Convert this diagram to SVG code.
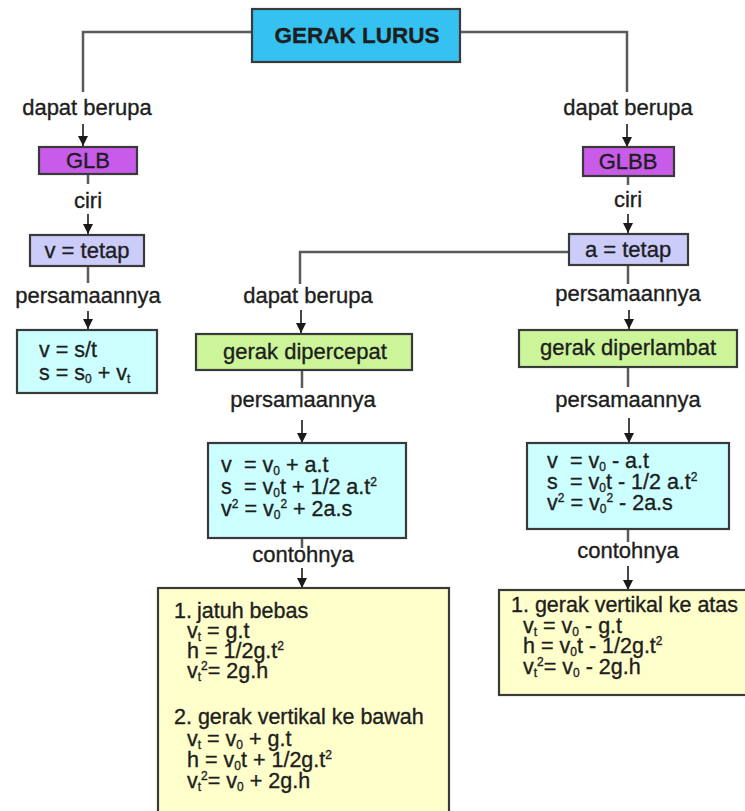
<svg xmlns="http://www.w3.org/2000/svg" width="745" height="811" viewBox="0 0 745 811">
<defs>
<marker id="ah" markerUnits="userSpaceOnUse" markerWidth="11" markerHeight="10" refX="10" refY="5" orient="auto" viewBox="0 0 11 10">
<path d="M0,0 L10,5 L0,10 Z" fill="#1a1a1a"/>
</marker>
<style>
.bx{stroke:#3a3a3a;stroke-width:2.2}
.t{font-family:"Liberation Sans",Arial,sans-serif;fill:#1e1e1e;stroke:#1e1e1e;stroke-width:0.35}
.lbl{font-size:22px;text-anchor:middle}
.bt{font-size:22px;text-anchor:middle}
.eq{font-size:21.5px}
.sub{font-size:12px}
.con{fill:none;stroke:#5a5a5a;stroke-width:2.5}
.arr{fill:none;stroke:#1a1a1a;stroke-width:1.6}
</style>
</defs>
<rect width="745" height="811" fill="#ffffff"/>

<g id="connectors">
<path class="con" d="M252,32 H83 V92"/>
<path class="con" d="M460,32 H627 V92"/>
<path class="con" d="M569,252 H300 V284"/>
<path class="con" d="M88,174 V184"/>
<path class="con" d="M88,266 V283"/>
<path class="con" d="M628,176 V185"/>
<path class="con" d="M628,265 V284"/>
<path class="con" d="M302,370 V388"/>
<path class="con" d="M628,367 V387"/>
<path class="con" d="M302,538 V548"/>
<path class="con" d="M628,529 V542"/>
<path class="arr" d="M83,124 V146" marker-end="url(#ah)"/>
<path class="arr" d="M627,124 V147" marker-end="url(#ah)"/>
<path class="arr" d="M88,214 V234" marker-end="url(#ah)"/>
<path class="arr" d="M628,214 V233" marker-end="url(#ah)"/>
<path class="arr" d="M88,311 V329" marker-end="url(#ah)"/>
<path class="arr" d="M301,310 V333" marker-end="url(#ah)"/>
<path class="arr" d="M629,310 V329" marker-end="url(#ah)"/>
<path class="arr" d="M302,420 V443" marker-end="url(#ah)"/>
<path class="arr" d="M629,418 V443" marker-end="url(#ah)"/>
<path class="arr" d="M302,568 V588" marker-end="url(#ah)"/>
<path class="arr" d="M628,566 V590" marker-end="url(#ah)"/>
<text class="t lbl" x="87" y="115">dapat berupa</text>
<text class="t lbl" x="628" y="115">dapat berupa</text>
<text class="t lbl" x="88" y="208">ciri</text>
<text class="t lbl" x="628" y="207">ciri</text>
<text class="t lbl" x="88" y="303">persamaannya</text>
<text class="t lbl" x="308" y="303">dapat berupa</text>
<text class="t lbl" x="628" y="301">persamaannya</text>
<text class="t lbl" x="303" y="407">persamaannya</text>
<text class="t lbl" x="628" y="407">persamaannya</text>
<text class="t lbl" x="303" y="562">contohnya</text>
<text class="t lbl" x="628" y="558">contohnya</text>
</g>

<g id="gerak-lurus">
<rect class="bx" x="252" y="9" width="208" height="53" fill="#35c2f0"/>
<text class="t" x="357" y="43" font-size="22.5" font-weight="bold" text-anchor="middle">GERAK LURUS</text>
</g>

<g id="glb">
<rect class="bx" x="39" y="147" width="98" height="27" fill="#c85ce8"/>
<text class="t bt" x="88" y="168">GLB</text>
</g>

<g id="glbb">
<rect class="bx" x="583" y="147" width="91" height="29" fill="#c85ce8"/>
<text class="t bt" x="628" y="169">GLBB</text>
</g>

<g id="v-tetap">
<rect class="bx" x="30" y="235" width="114" height="31" fill="#ccccfa"/>
<text class="t bt" x="87" y="258">v = tetap</text>
</g>

<g id="a-tetap">
<rect class="bx" x="569" y="234" width="119" height="31" fill="#ccccfa"/>
<text class="t bt" x="628" y="257">a = tetap</text>
</g>

<g id="glb-eq">
<rect class="bx" x="17" y="330" width="140" height="63" fill="#ccffff"/>
<text class="t eq" x="39" y="357">v = s/t</text>
<text class="t eq" x="39" y="380">s = s<tspan class="sub" dy="3">0</tspan><tspan dy="-3"> + v</tspan><tspan class="sub" dy="3">t</tspan></text>
</g>

<g id="gerak-dipercepat">
<rect class="bx" x="196" y="334" width="216" height="36" fill="#ccf59a"/>
<text class="t bt" x="305" y="359">gerak dipercepat</text>
</g>

<g id="gerak-diperlambat">
<rect class="bx" x="519" y="330" width="218" height="37" fill="#ccf59a"/>
<text class="t bt" x="628" y="355">gerak diperlambat</text>
</g>

<g id="glbb-eq-dipercepat">
<rect class="bx" x="208" y="443" width="198" height="95" fill="#ccffff"/>
<text class="t eq" y="472"><tspan x="221">v</tspan><tspan x="244">= v</tspan><tspan class="sub" dy="3">0</tspan><tspan dy="-3"> + a.t</tspan></text>
<text class="t eq" y="494"><tspan x="221">s</tspan><tspan x="244">= v</tspan><tspan class="sub" dy="3">0</tspan><tspan dy="-3">t + 1/2 a.t</tspan><tspan class="sub" dy="-8">2</tspan></text>
<text class="t eq" y="516"><tspan x="221">v</tspan><tspan class="sub" dy="-8">2</tspan><tspan dy="8"> = v</tspan><tspan class="sub" dy="3">0</tspan><tspan class="sub" dy="-11">2</tspan><tspan dy="8"> + 2a.s</tspan></text>
</g>

<g id="glbb-eq-diperlambat">
<rect class="bx" x="527" y="443" width="202" height="86" fill="#ccffff"/>
<text class="t eq" y="468"><tspan x="547">v</tspan><tspan x="570">= v</tspan><tspan class="sub" dy="3">0</tspan><tspan dy="-3"> - a.t</tspan></text>
<text class="t eq" y="489"><tspan x="547">s</tspan><tspan x="570">= v</tspan><tspan class="sub" dy="3">0</tspan><tspan dy="-3">t - 1/2 a.t</tspan><tspan class="sub" dy="-8">2</tspan></text>
<text class="t eq" y="510"><tspan x="547">v</tspan><tspan class="sub" dy="-8">2</tspan><tspan dy="8"> = v</tspan><tspan class="sub" dy="3">0</tspan><tspan class="sub" dy="-11">2</tspan><tspan dy="8"> - 2a.s</tspan></text>
</g>

<g id="contoh-dipercepat">
<rect class="bx" x="158" y="588" width="291" height="230" fill="#ffffcc"/>
<text class="t eq" y="618"><tspan x="174">1.</tspan><tspan x="197">jatuh bebas</tspan></text>
<text class="t eq" y="638"><tspan x="187">v</tspan><tspan class="sub" dy="3">t</tspan><tspan dy="-3"> = g.t</tspan></text>
<text class="t eq" y="658"><tspan x="187">h</tspan><tspan x="205">= 1/2g.t</tspan><tspan class="sub" dy="-8">2</tspan></text>
<text class="t eq" y="678"><tspan x="187">v</tspan><tspan class="sub" dy="3">t</tspan><tspan class="sub" dy="-11">2</tspan><tspan dy="8">= 2g.h</tspan></text>
<text class="t eq" y="724"><tspan x="174">2. gerak vertikal ke bawah</tspan></text>
<text class="t eq" y="746"><tspan x="187">v</tspan><tspan class="sub" dy="3">t</tspan><tspan dy="-3"> = v</tspan><tspan class="sub" dy="3">0</tspan><tspan dy="-3"> + g.t</tspan></text>
<text class="t eq" y="767"><tspan x="187">h</tspan><tspan x="205">= v</tspan><tspan class="sub" dy="3">0</tspan><tspan dy="-3">t + 1/2g.t</tspan><tspan class="sub" dy="-8">2</tspan></text>
<text class="t eq" y="788"><tspan x="187">v</tspan><tspan class="sub" dy="3">t</tspan><tspan class="sub" dy="-11">2</tspan><tspan dy="8">= v</tspan><tspan class="sub" dy="3">0</tspan><tspan dy="-3"> + 2g.h</tspan></text>
</g>

<g id="contoh-diperlambat">
<rect class="bx" x="499" y="590" width="260" height="105" fill="#ffffcc"/>
<text class="t eq" x="511" y="612" font-size="22">1. gerak vertikal ke atas</text>
<text class="t eq" y="633"><tspan x="523">v</tspan><tspan class="sub" dy="3">t</tspan><tspan dy="-3"> = v</tspan><tspan class="sub" dy="3">0</tspan><tspan dy="-3"> - g.t</tspan></text>
<text class="t eq" y="653"><tspan x="523">h</tspan><tspan x="541">= v</tspan><tspan class="sub" dy="3">0</tspan><tspan dy="-3">t - 1/2g.t</tspan><tspan class="sub" dy="-8">2</tspan></text>
<text class="t eq" y="674"><tspan x="523">v</tspan><tspan class="sub" dy="3">t</tspan><tspan class="sub" dy="-11">2</tspan><tspan dy="8">= v</tspan><tspan class="sub" dy="3">0</tspan><tspan dy="-3"> - 2g.h</tspan></text>
</g>
</svg>
